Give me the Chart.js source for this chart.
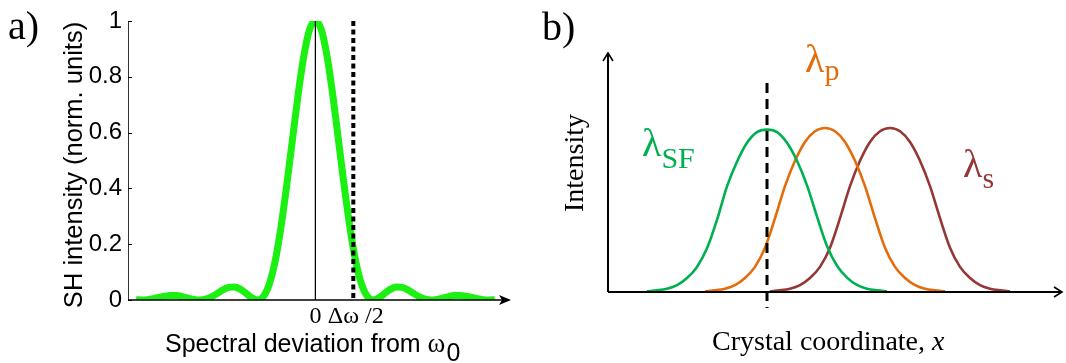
<!DOCTYPE html>
<html>
<head>
<meta charset="utf-8">
<script src="https://cdn.jsdelivr.net/npm/chart.js@4.4.0/dist/chart.umd.min.js"></script>
<style>
  html, body { margin: 0; padding: 0; background: #fff; }
  #wrap { position: relative; width: 1066px; height: 363px; overflow: hidden; background: #fff; }
  #chartA { position: absolute; left: 0; top: 0; }
  #chartB { position: absolute; left: 540px; top: 0; }
</style>
</head>
<body>
<div id="wrap">
  <canvas id="chartA" width="530" height="363"></canvas>
  <canvas id="chartB" width="526" height="363"></canvas>
</div>
<script>
// panel a) SH spectrum, deviation in units of the first zero
const deviation = [
  -3.1, -3.0, -2.9, -2.8, -2.7, -2.6, -2.5, -2.4, -2.3, -2.2, -2.1,
  -2.0, -1.9, -1.8, -1.7, -1.6, -1.5, -1.4, -1.3, -1.2, -1.1,
  -1.0, -0.9, -0.8, -0.7, -0.6, -0.5, -0.4, -0.3, -0.2, -0.1,
  0,
  0.1, 0.2, 0.3, 0.4, 0.5, 0.6, 0.7, 0.8, 0.9, 1.0,
  1.1, 1.2, 1.3, 1.4, 1.5, 1.6, 1.7, 1.8, 1.9, 2.0,
  2.1, 2.2, 2.3, 2.4, 2.5, 2.6, 2.7, 2.8, 2.9, 3.0, 3.1,
];
const shIntensity = [
  0.001, 0, 0.001, 0.005, 0.009, 0.014, 0.016, 0.016, 0.012, 0.007, 0.002,
  0, 0.003, 0.011, 0.023, 0.036, 0.045, 0.047, 0.039, 0.024, 0.008,
  0, 0.012, 0.055, 0.135, 0.255, 0.405, 0.57, 0.735, 0.875, 0.97,
  1,
  0.97, 0.875, 0.735, 0.57, 0.405, 0.255, 0.135, 0.055, 0.012, 0,
  0.008, 0.024, 0.039, 0.047, 0.045, 0.036, 0.023, 0.011, 0.003, 0,
  0.002, 0.007, 0.012, 0.016, 0.016, 0.014, 0.009, 0.005, 0.001, 0, 0.001,
];
const halfBandwidth = 0.655;
const xTickValues = [0, halfBandwidth];
const xTickLabels = ['0', '\u2009Δω /2'];
const yTickStep = 0.2;

// panel b) beam profiles along the crystal (offset from each peak)
const pulseOffset = [-12, -11, -10, -9, -8, -7, -6, -5, -4, -3, -2, -1, 0, 1, 2, 3, 4, 5, 6, 7, 8, 9, 10, 11, 12];
const sfIntensity = [0.004, 0.01, 0.02, 0.042, 0.085, 0.153, 0.266, 0.44, 0.644, 0.794, 0.91, 0.975, 0.99, 0.975, 0.91, 0.8, 0.65, 0.46, 0.28, 0.16, 0.088, 0.043, 0.02, 0.01, 0.004];
const pumpIntensity = [0.004, 0.01, 0.02, 0.042, 0.085, 0.153, 0.27, 0.45, 0.645, 0.8, 0.915, 0.98, 1, 0.98, 0.915, 0.8, 0.645, 0.45, 0.27, 0.153, 0.085, 0.042, 0.02, 0.01, 0.004];
const signalIntensity = [0.004, 0.01, 0.02, 0.042, 0.085, 0.153, 0.27, 0.45, 0.645, 0.8, 0.915, 0.98, 1, 0.98, 0.915, 0.8, 0.645, 0.45, 0.27, 0.153, 0.085, 0.042, 0.02, 0.01, 0.004];
const sfCenter = 15.9;
const pumpCenter = 21.7;
const signalCenter = 28.2;
const markerCoord = 15.9;

const GREEN_A = '#1cef12';
const GREEN = '#00b050';
const ORANGE = '#e46c0a';
const BROWN = '#953735';
const SANS = '"Liberation Sans", Arial, sans-serif';
const SERIF = '"Liberation Serif", "Times New Roman", serif';

const toPoints = (xs, ys, shift = 0) => xs.map((x, i) => ({ x: x + shift, y: ys[i] }));

const arrowA = {
  id: 'arrowA',
  afterDraw(chart) {
    const { ctx, chartArea, scales } = chart;
    const y0 = scales.y.getPixelForValue(0);
    const tip = chartArea.right + 7;
    ctx.save();
    ctx.strokeStyle = '#000';
    ctx.fillStyle = '#000';
    ctx.lineWidth = 1.5;
    ctx.beginPath();
    ctx.moveTo(chartArea.left, y0);
    ctx.lineTo(tip - 4, y0);
    ctx.stroke();
    ctx.beginPath();
    ctx.moveTo(tip, y0);
    ctx.lineTo(tip - 12, y0 - 5);
    ctx.lineTo(tip - 9, y0);
    ctx.lineTo(tip - 12, y0 + 5);
    ctx.closePath();
    ctx.fill();

    // inner tick marks on the y axis
    ctx.lineWidth = 1;
    scales.y.ticks.forEach((t) => {
      const py = Math.round(scales.y.getPixelForValue(t.value)) + 0.5;
      ctx.beginPath();
      ctx.moveTo(chartArea.left, py);
      ctx.lineTo(chartArea.left + 4, py);
      ctx.stroke();
    });

    ctx.textAlign = 'left';
    ctx.textBaseline = 'alphabetic';
    ctx.font = `40px ${SERIF}`;
    ctx.fillText('a)', 8, 39);

    ctx.save();
    ctx.translate(82, 165);
    ctx.rotate(-Math.PI / 2);
    ctx.textAlign = 'center';
    ctx.font = `25.5px ${SANS}`;
    ctx.fillText('SH intensity (norm. units)', 0, 0);
    ctx.restore();

    let x = 165;
    ctx.font = `25px ${SANS}`;
    ctx.fillText('Spectral deviation from ', x, 352);
    x += ctx.measureText('Spectral deviation from ').width;
    ctx.font = `27px ${SERIF}`;
    ctx.fillText('ω', x, 352);
    x += ctx.measureText('ω').width + 1;
    ctx.font = `25px ${SANS}`;
    ctx.fillText('0', x, 361);
    ctx.restore();
  },
};

new Chart(document.getElementById('chartA'), {
  type: 'line',
  data: {
    datasets: [
      {
        data: [{ x: halfBandwidth, y: 1 }, { x: halfBandwidth, y: 0 }],
        borderColor: '#000',
        borderWidth: 4,
        borderDash: [5, 3.5],
        pointRadius: 0,
      },
      {
        data: [{ x: 0, y: 1 }, { x: 0, y: 0 }],
        borderColor: '#000',
        borderWidth: 1,
        pointRadius: 0,
      },
      {
        data: toPoints(deviation, shIntensity),
        borderColor: GREEN_A,
        borderWidth: 7,
        pointRadius: 0,
        cubicInterpolationMode: 'monotone',
      },
    ],
  },
  options: {
    responsive: false,
    animation: false,
    events: [],
    layout: { padding: { top: 21, right: 26, left: 0, bottom: 0 } },
    plugins: { legend: { display: false }, tooltip: { enabled: false } },
    scales: {
      x: {
        type: 'linear',
        min: -3.24,
        max: 3.26,
        grid: { display: false, drawTicks: false },
        border: { display: false },
        afterFit: (s) => { s.height = 63; },
        afterBuildTicks: (s) => { s.ticks = xTickValues.map((v) => ({ value: v })); },
        ticks: {
          autoSkip: false,
          maxRotation: 0,
          padding: 2,
          color: '#000',
          font: { family: SERIF, size: 24 },
          callback: (v, i) => xTickLabels[i],
        },
      },
      y: {
        min: 0,
        max: 1,
        afterFit: (s) => { s.width = 128; },
        grid: { display: false, drawTicks: false },
        border: { display: true, color: '#333', width: 1 },
        ticks: {
          stepSize: yTickStep,
          padding: 6,
          color: '#000',
          font: { family: SANS, size: 24 },
          callback: (v) => String(Number(v.toFixed(1))),
        },
      },
    },
  },
  plugins: [arrowA],
});

const arrowHead = (ctx, x, y, dx, dy) => {
  // open arrow head pointing along (dx, dy)
  const len = 8;
  const half = 5;
  ctx.beginPath();
  ctx.moveTo(x - dx * len - dy * half, y - dy * len + dx * half);
  ctx.lineTo(x, y);
  ctx.lineTo(x - dx * len + dy * half, y - dy * len - dx * half);
  ctx.stroke();
};

const decorB = {
  id: 'decorB',
  afterDatasetsDraw(chart) {
    const { ctx, chartArea, scales } = chart;
    const y0 = scales.y.getPixelForValue(0);
    ctx.save();
    ctx.strokeStyle = '#000';
    ctx.lineWidth = 2;
    ctx.beginPath();
    ctx.moveTo(chartArea.left, y0);
    ctx.lineTo(chartArea.right, y0);
    ctx.moveTo(chartArea.left, y0);
    ctx.lineTo(chartArea.left, chartArea.top);
    ctx.stroke();
    ctx.lineWidth = 1.6;
    arrowHead(ctx, chartArea.right, y0, 1, 0);
    arrowHead(ctx, chartArea.left, chartArea.top, 0, -1);

    const mx = scales.x.getPixelForValue(markerCoord);
    ctx.lineWidth = 3;
    ctx.setLineDash([10, 6]);
    ctx.beginPath();
    ctx.moveTo(mx, scales.y.getPixelForValue(1.274));
    ctx.lineTo(mx, scales.y.getPixelForValue(-0.098));
    ctx.stroke();
    ctx.setLineDash([]);
    ctx.restore();
  },
  afterDraw(chart) {
    const { ctx } = chart;
    ctx.save();
    ctx.textAlign = 'left';
    ctx.textBaseline = 'alphabetic';
    ctx.fillStyle = '#000';
    ctx.font = `40px ${SERIF}`;
    ctx.fillText('b)', 2, 40);

    ctx.save();
    ctx.translate(43, 163);
    ctx.rotate(-Math.PI / 2);
    ctx.textAlign = 'center';
    ctx.font = `28px ${SERIF}`;
    ctx.fillText('Intensity', 0, 0);
    ctx.restore();

    let x = 172;
    ctx.font = `28px ${SERIF}`;
    ctx.fillText('Crystal coordinate, ', x, 350);
    x += ctx.measureText('Crystal coordinate, ').width;
    ctx.font = `italic 28px ${SERIF}`;
    ctx.fillText('x', x, 350);

    const label = (sub, color, lx, ly, sy) => {
      ctx.fillStyle = color;
      ctx.font = `40px ${SERIF}`;
      ctx.fillText('λ', lx, ly);
      const w = ctx.measureText('λ').width;
      ctx.font = `30px ${SERIF}`;
      ctx.fillText(sub, lx + w, sy);
    };
    label('SF', GREEN, 102, 156, 168);
    label('p', ORANGE, 265, 72, 80);
    label('s', BROWN, 423, 177, 188);
    ctx.restore();
  },
};

const curve = (data, color) => ({
  data,
  borderColor: color,
  borderWidth: 2.6,
  pointRadius: 0,
  cubicInterpolationMode: 'monotone',
});

new Chart(document.getElementById('chartB'), {
  type: 'line',
  data: {
    datasets: [
      curve(toPoints(pulseOffset, sfIntensity, sfCenter), GREEN),
      curve(toPoints(pulseOffset, pumpIntensity, pumpCenter), ORANGE),
      curve(toPoints(pulseOffset, signalIntensity, signalCenter), BROWN),
    ],
  },
  options: {
    responsive: false,
    animation: false,
    events: [],
    layout: { padding: { top: 53, right: 4, left: 0, bottom: 0 } },
    plugins: { legend: { display: false }, tooltip: { enabled: false } },
    scales: {
      x: {
        type: 'linear',
        min: 0,
        max: 45.4,
        grid: { display: false, drawTicks: false },
        border: { display: false },
        ticks: { display: false },
        afterFit: (s) => { s.height = 71; },
      },
      y: {
        min: 0,
        max: 1.457,
        grid: { display: false, drawTicks: false },
        border: { display: false },
        ticks: { display: false },
        afterFit: (s) => { s.width = 68; },
      },
    },
  },
  plugins: [decorB],
});
</script>
</body>
</html>
